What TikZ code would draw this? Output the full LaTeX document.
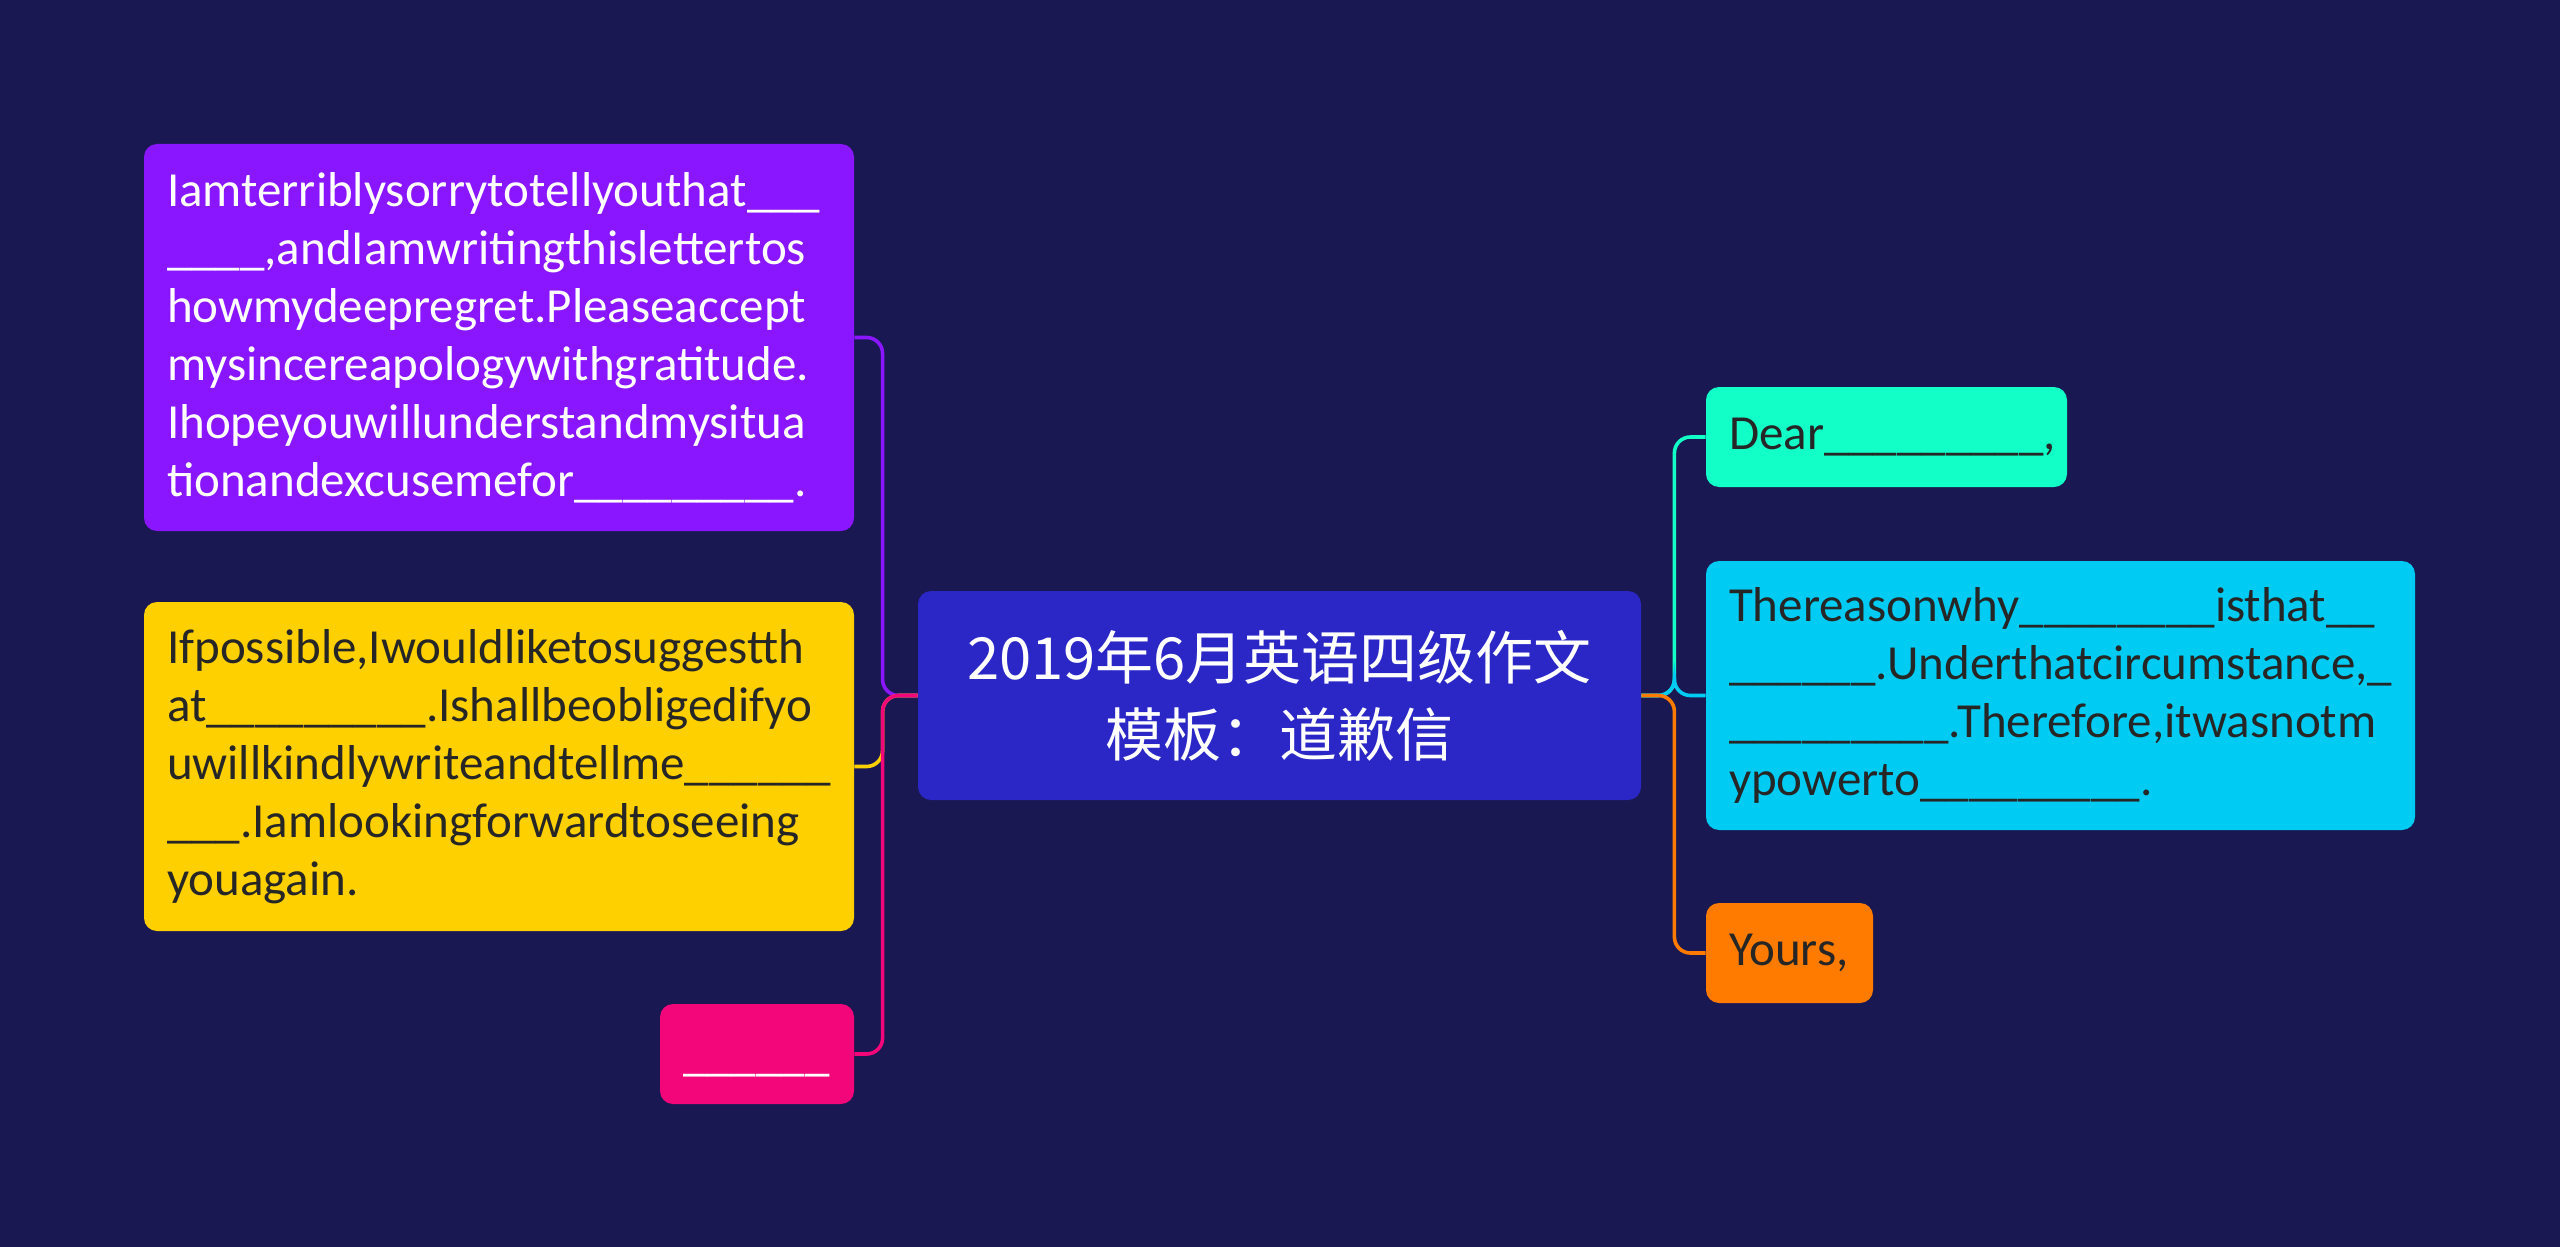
\documentclass[tikz,border=0pt]{standalone}
\usepackage{fontspec}
\setmainfont{Carlito}
\newfontfamily\cjk{Noto Sans CJK SC}
\definecolor{bgc}{HTML}{1A1852}
\definecolor{cenc}{HTML}{2A27C6}
\definecolor{purc}{HTML}{8A15FF}
\definecolor{yelc}{HTML}{FFD000}
\definecolor{pinc}{HTML}{F20679}
\definecolor{mintc}{HTML}{12FFC7}
\definecolor{cyac}{HTML}{00CCF3}
\definecolor{orac}{HTML}{FF7B00}
\definecolor{darktxt}{HTML}{262626}
\newcommand\nohyph{\hyphenpenalty10000\relax\exhyphenpenalty10000\relax}
\begin{document}
\begin{tikzpicture}[x=0.5pt,y=-0.5pt,
  box/.style={rectangle, rounded corners=6.5pt, inner xsep=11.5pt, inner ysep=0pt, align=left,
    font=\fontsize{24.5pt}{29pt}\selectfont\nohyph},
  conn/.style={draw=#1, line width=1.8pt, rounded corners=8pt}]
\useasboundingbox[fill=bgc] (0,0) rectangle (2560,1247);

\node[rectangle, rounded corners=6.5pt, fill=cenc, text=white, align=center,
  minimum width=361.5pt, minimum height=104.5pt,
  font=\cjk\fontsize{29pt}{38.5pt}\selectfont] (C) at (1279.5,695.5)
  {2019年6月英语四级作文\\模板：道歉信};

\node[box, fill=purc, text=white, minimum width=355pt, text width=332pt, minimum height=193.5pt] (P) at (499,337.5)
{Iamterriblysorrytotellyouthat\_\_\_\\
\_\_\_\_,andIamwritingthislettertos\\
howmydeepregret.Pleaseaccept\\
mysincereapologywithgratitude.\\
Ihopeyouwillunderstandmysitua\\
tionandexcusemefor\_\_\_\_\_\_\_\_\_.};

\node[box, fill=yelc, text=darktxt, text width=332pt, minimum height=164.5pt] (Y) at (499,766.5)
{Ifpossible,Iwouldliketosuggestth\\
at\_\_\_\_\_\_\_\_\_.Ishallbeobligedifyo\\
uwillkindlywriteandtellme\_\_\_\_\_\_\\
\_\_\_.Iamlookingforwardtoseeing\\
youagain.};

\node[box, fill=pinc, text=white, text width=74pt, minimum height=50pt] (K) at (757,1054)
{\raisebox{-8pt}[0pt][0pt]{\_\_\_\_\_\_}};

\node[box, fill=mintc, text=darktxt, text width=157.5pt, minimum height=50pt] (D) at (1886.5,437)
{Dear\_\_\_\_\_\_\_\_\_,};

\node[box, fill=cyac, text=darktxt, text width=331.5pt, minimum height=134.5pt] (R) at (2060.5,695.5)
{Thereasonwhy\_\_\_\_\_\_\_\_isthat\_\_\\
\_\_\_\_\_\_.Underthatcircumstance,\_\\
\_\_\_\_\_\_\_\_\_.Therefore,itwasnotm\\
ypowerto\_\_\_\_\_\_\_\_\_.};

\node[box, fill=orac, text=darktxt, text width=60.5pt, minimum height=50pt] (O) at (1789.5,953)
{Yours,};

\draw[conn=purc] (C.west) -- ++(-35,0) |- (P.east);
\draw[conn=yelc] (C.west) -- ++(-35,0) |- (Y.east);
\draw[conn=pinc] (C.west) -- ++(-35,0) |- (K.east);
\draw[conn=mintc] (C.east) -- ++(33,0) |- (D.west);
\draw[conn=cyac] (C.east) -- ++(33,0) |- (R.west);
\draw[conn=orac] (C.east) -- ++(33,0) |- (O.west);
\end{tikzpicture}
\end{document}
